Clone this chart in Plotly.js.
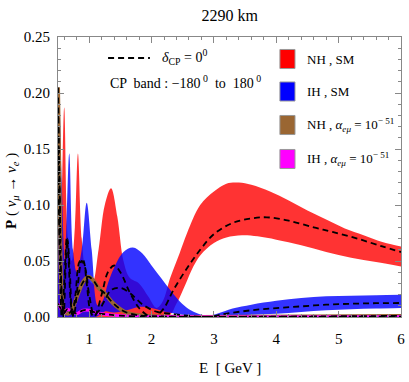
<!DOCTYPE html>
<html>
<head>
<meta charset="utf-8">
<script src="https://cdn.plot.ly/plotly-3.0.1.min.js"></script>
<style>
  html, body { margin: 0; padding: 0; background: #fff; }
  #plot { width: 409px; height: 382px; }
</style>
</head>
<body>
<div id="plot"></div>
<script>
// NH, SM band (red) - upper and lower edge over delta_CP
const nhUpE = [0.50, 0.55, 0.60, 0.66, 0.72, 0.77, 0.82, 0.88, 0.95, 1.05, 1.15, 1.25, 1.35, 1.45, 1.55, 1.65, 1.80, 1.95, 2.08, 2.18, 2.30, 2.45, 2.57, 2.78, 3.00, 3.20, 3.40, 3.60, 3.90, 4.20, 4.50, 4.80, 5.10, 5.40, 5.70, 6.00];
const nhUpP = [0.06, 0.09, 0.187, 0.07, 0.05, 0.08, 0.146, 0.07, 0.04, 0.03, 0.06, 0.10, 0.115, 0.09, 0.05, 0.035, 0.03, 0.018, 0.008, 0.014, 0.035, 0.057, 0.075, 0.100, 0.112, 0.119, 0.120, 0.118, 0.112, 0.104, 0.095, 0.087, 0.079, 0.073, 0.067, 0.063];
const nhLoE = [0.50, 2.25, 2.40, 2.55, 2.67, 2.78, 3.00, 3.20, 3.45, 3.70, 4.00, 4.40, 4.80, 5.20, 5.60, 6.00];
const nhLoP = [0, 0, 0.012, 0.03, 0.045, 0.055, 0.066, 0.071, 0.073, 0.072, 0.069, 0.064, 0.058, 0.053, 0.049, 0.045];

// IH, SM band (blue)
const ihUpE = [0.50, 0.52, 0.56, 0.61, 0.68, 0.74, 0.80, 0.88, 0.96, 1.04, 1.14, 1.22, 1.30, 1.40, 1.55, 1.70, 1.85, 2.00, 2.15, 2.30, 2.45, 2.60, 2.75, 2.90, 3.05, 3.30, 3.60, 4.00, 4.40, 4.80, 5.20, 5.60, 6.00];
const ihUpP = [0.15, 0.194, 0.12, 0.05, 0.146, 0.06, 0.04, 0.06, 0.102, 0.06, 0.01, 0.015, 0.03, 0.044, 0.058, 0.062, 0.057, 0.046, 0.035, 0.024, 0.014, 0.007, 0.003, 0.0015, 0.003, 0.0075, 0.011, 0.0145, 0.017, 0.0185, 0.019, 0.0195, 0.0198];
const ihLoE = [0.50, 1.10, 1.25, 1.40, 1.60, 1.80, 2.00, 2.20, 2.50, 2.90, 3.30, 3.60, 4.00, 4.40, 4.80, 5.20, 5.60, 6.00];
const ihLoP = [0, 0, 0.005, 0.004, 0.006, 0.009, 0.008, 0.005, 0.002, 0, 0.001, 0.002, 0.003, 0.0045, 0.006, 0.007, 0.0075, 0.008];

// delta_CP = 0 curves
const nhCp0E = [0.50, 0.53, 0.56, 0.59, 0.62, 0.65, 0.69, 0.73, 0.78, 0.85, 0.90, 0.96, 1.02, 1.08, 1.20, 1.30, 1.40, 1.50, 1.65, 1.80, 1.95, 2.05, 2.20, 2.35, 2.55, 2.78, 3.00, 3.30, 3.60, 3.85, 4.20, 4.60, 4.90, 5.30, 5.70, 6.00];
const nhCp0P = [0.18, 0.10, 0.02, 0.0, 0.04, 0.07, 0.04, 0.0, 0.02, 0.05, 0.051, 0.03, 0.005, 0.0, 0.02, 0.04, 0.046, 0.04, 0.022, 0.008, 0.001, 0.0, 0.008, 0.024, 0.042, 0.06, 0.074, 0.084, 0.088, 0.089, 0.086, 0.080, 0.076, 0.070, 0.063, 0.058];
const ihCp0E = [0.50, 0.53, 0.56, 0.60, 0.64, 0.67, 0.71, 0.75, 0.82, 0.88, 0.93, 1.00, 1.08, 1.15, 1.25, 1.35, 1.50, 1.66, 1.86, 2.09, 2.30, 2.60, 2.90, 3.20, 3.60, 4.00, 4.40, 4.80, 5.20, 5.60, 6.00];
const ihCp0P = [0.15, 0.05, 0.0, 0.03, 0.07, 0.05, 0.01, 0.0, 0.03, 0.05, 0.045, 0.02, 0.002, 0.005, 0.015, 0.024, 0.026, 0.021, 0.011, 0.0045, 0.003, 0.001, 0.0, 0.003, 0.006, 0.008, 0.0095, 0.011, 0.0118, 0.0123, 0.0125];

// alpha_emu = 1e-51 (very narrow bands)
const nhAlE = [0.50, 0.53, 0.56, 0.60, 0.66, 0.72, 0.77, 0.83, 0.89, 0.98, 1.06, 1.15, 1.25, 1.38, 1.50, 1.60, 1.80, 2.00, 2.30, 2.80, 3.50, 4.50, 6.00];
const nhAlP = [0.205, 0.10, 0.02, 0.005, 0.003, 0.006, 0.013, 0.022, 0.030, 0.036, 0.033, 0.026, 0.021, 0.0125, 0.007, 0.004, 0.0015, 0.0008, 0.0003, 0.0, 0.0002, 0.0005, 0.001];
const ihAlE = [0.50, 0.55, 0.60, 0.65, 0.72, 0.80, 0.90, 1.00, 1.10, 1.25, 1.50, 2.00, 3.00, 6.00];
const ihAlP = [0.012, 0.007, 0.004, 0.007, 0.005, 0.003, 0.006, 0.006, 0.004, 0.0025, 0.0012, 0.0004, 0.0001, 0.0003];

const legendNames = ['NH , SM', 'IH , SM', 'NH , <i>α</i><sub><i>eμ</i></sub> = 10<sup>− 51</sup>', 'IH , <i>α</i><sub><i>eμ</i></sub> = 10<sup>− 51</sup>'];
const legendColors = ['#ff0000', '#0000ff', '#9a6632', '#ff00ff'];

const serif = 'Liberation Serif, Times New Roman, serif';
const red = 'rgba(255,0,0,0.8)';
const blue = 'rgba(0,0,255,0.8)';
const dashStyle = { color: 'black', width: 1.8, dash: '6px,4px', shape: 'spline' };

function band(loE, loP, upE, upP, col) {
    return [
        { x: loE, y: loP, mode: 'lines', line: { width: 0, shape: 'spline' }, hoverinfo: 'skip' },
        { x: upE, y: upP, mode: 'lines', fill: 'tonexty', fillcolor: col, line: { width: 0, shape: 'spline' } },
    ];
}

let data = [];
data = data.concat(band(nhLoE, nhLoP, nhUpE, nhUpP, red));
data = data.concat(band(ihLoE, ihLoP, ihUpE, ihUpP, blue));
data.push({ x: nhAlE, y: nhAlP, mode: 'lines', line: { color: '#9a6632', width: 4, shape: 'spline' } });
data.push({ x: ihAlE, y: ihAlP, mode: 'lines', line: { color: '#ff00ff', width: 3, shape: 'spline' } });
data.push({ x: nhCp0E, y: nhCp0P, mode: 'lines', line: dashStyle });
data.push({ x: ihCp0E, y: ihCp0P, mode: 'lines', line: dashStyle });
data.push({ x: nhAlE, y: nhAlP, mode: 'lines', line: dashStyle });
data.push({ x: ihAlE, y: ihAlP, mode: 'lines', line: dashStyle });

// legend swatches and texts
let shapes = [{
    type: 'line', xref: 'paper', yref: 'paper', x0: 0.146, x1: 0.268, y0: 0.925, y1: 0.925,
    line: { color: 'black', width: 2, dash: '6px,4px' },
}];
let annotations = [
    { text: '<i>δ</i><sub>CP</sub> = 0<sup>0</sup>', xref: 'paper', yref: 'paper', x: 0.297, y: 0.93, xanchor: 'left', yanchor: 'middle', showarrow: false, font: { family: serif, size: 14, color: 'black' } },
    { text: 'CP  band : −180<sup> 0</sup>  to  180<sup> 0</sup>', xref: 'paper', yref: 'paper', x: 0.146, y: 0.84, xanchor: 'left', yanchor: 'middle', showarrow: false, font: { family: serif, size: 14, color: 'black' } },
    { text: '<b>P</b> ( <i>ν</i><sub><i>μ</i></sub> → <i>ν</i><sub><i>e</i></sub> )', xref: 'paper', yref: 'paper', x: -0.134, y: 0.45, textangle: -90, xanchor: 'center', yanchor: 'middle', showarrow: false, font: { family: serif, size: 15, color: 'black' } },
    { text: 'E  [ GeV ]', xref: 'paper', yref: 'paper', x: 0.5, y: -0.182, xanchor: 'center', yanchor: 'middle', showarrow: false, font: { family: serif, size: 15, color: 'black' } },
];
const legY = [59, 91.5, 125, 159];
for (let i = 0; i < legendNames.length; ++i) {
    let yc = (317 - legY[i]) / 280;
    shapes.push({
        type: 'rect', xref: 'paper', yref: 'paper', x0: 0.647, x1: 0.691, y0: yc - 0.034, y1: yc + 0.034,
        fillcolor: legendColors[i], line: { color: '#999', width: 1 },
    });
    annotations.push({
        text: legendNames[i], xref: 'paper', yref: 'paper', x: 0.72, y: yc, xanchor: 'left', yanchor: 'middle',
        showarrow: false, font: { family: serif, size: 13, color: 'black' },
    });
}

const layout = {
    width: 409,
    height: 382,
    margin: { l: 58, r: 8, t: 37, b: 65, pad: 0 },
    paper_bgcolor: 'white',
    plot_bgcolor: 'white',
    showlegend: false,
    title: { text: '2290 km', x: 0.5616, y: 0.96, xanchor: 'center', yanchor: 'middle', font: { family: serif, size: 16, color: 'black' } },
    xaxis: {
        range: [0.5, 6],
        tickmode: 'linear', tick0: 0, dtick: 1,
        ticks: 'inside', ticklen: 6, tickcolor: '#888', tickwidth: 1,
        minor: { ticks: 'inside', dtick: 0.2, tick0: 0, ticklen: 3, tickcolor: '#888', showgrid: false },
        showline: true, linecolor: '#888', linewidth: 1, mirror: 'ticks',
        showgrid: false, zeroline: false,
        ticklabelstandoff: 8,
        tickfont: { family: serif, size: 15, color: 'black' },
    },
    yaxis: {
        range: [0, 0.25],
        tickmode: 'linear', tick0: 0, dtick: 0.05, tickformat: '.2f',
        ticks: 'inside', ticklen: 6, tickcolor: '#888', tickwidth: 1,
        minor: { ticks: 'inside', dtick: 0.01, tick0: 0, ticklen: 3, tickcolor: '#888', showgrid: false },
        showline: true, linecolor: '#888', linewidth: 1, mirror: 'ticks',
        showgrid: false, zeroline: false,
        ticklabelstandoff: 4,
        tickfont: { family: serif, size: 15, color: 'black' },
    },
    shapes: shapes,
    annotations: annotations,
};

Plotly.newPlot('plot', data, layout, { staticPlot: true, displayModeBar: false });
</script>
</body>
</html>
